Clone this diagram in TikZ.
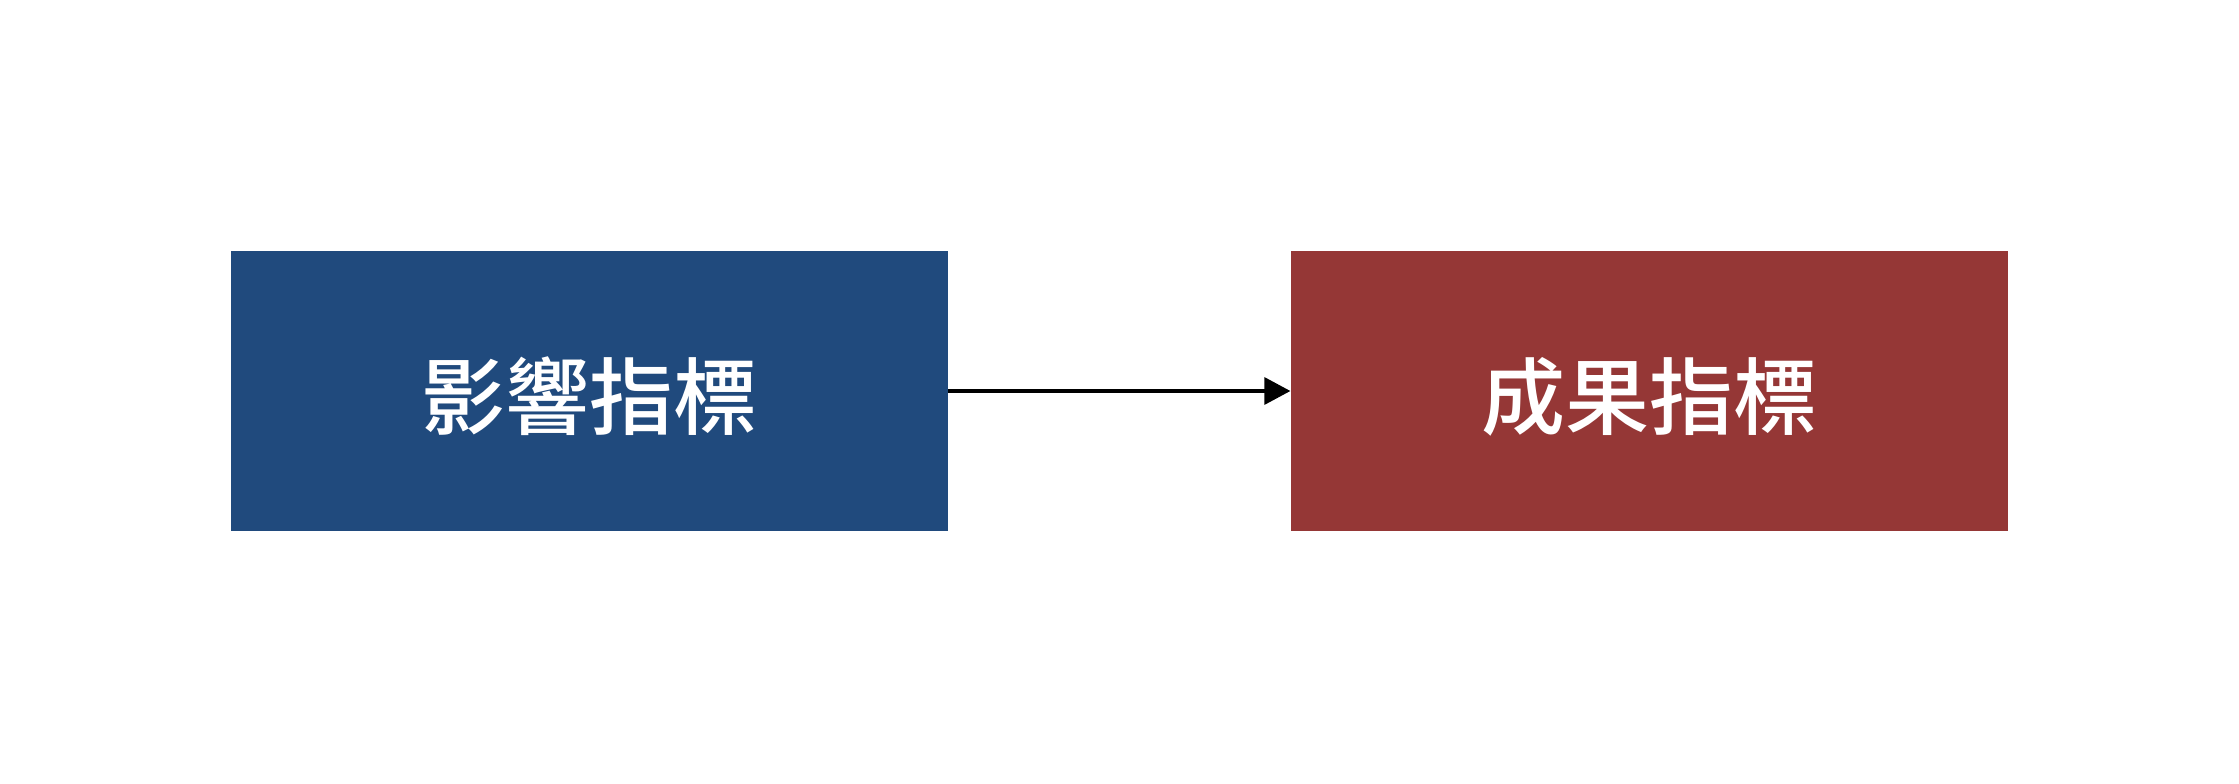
\documentclass[tikz,border=0pt]{standalone}
\usepackage{fontspec}
\newfontfamily\cjk{Noto Sans CJK TC Medium}
\usepackage{tikz}
\usetikzlibrary{arrows.meta, positioning}

\definecolor{impactblue}{RGB}{32,74,125}
\definecolor{outcomered}{RGB}{149,55,54}

\begin{document}
\begin{tikzpicture}[
    node distance=0pt and 171pt,
    every node/.style={font=\cjk\fontsize{42pt}{50pt}\selectfont, text=white},
    indicator/.style={rectangle, draw=none, minimum width=358.5pt, minimum height=140pt, inner sep=0pt, text height=43pt, text depth=5pt},
    arrow/.style={-{Triangle[length=13pt, width=13.5pt]}, line width=1.6pt}
]
\useasboundingbox (0,0) rectangle (1119.5pt,391.5pt);

% Indicator boxes
\node[indicator, fill=impactblue] (impact) at (294.75pt,196pt) {影響指標};
\node[indicator, fill=outcomered, right=of impact] (outcome) {成果指標};

% Arrow
\draw[arrow] (impact) -- (outcome);

\end{tikzpicture}
\end{document}
